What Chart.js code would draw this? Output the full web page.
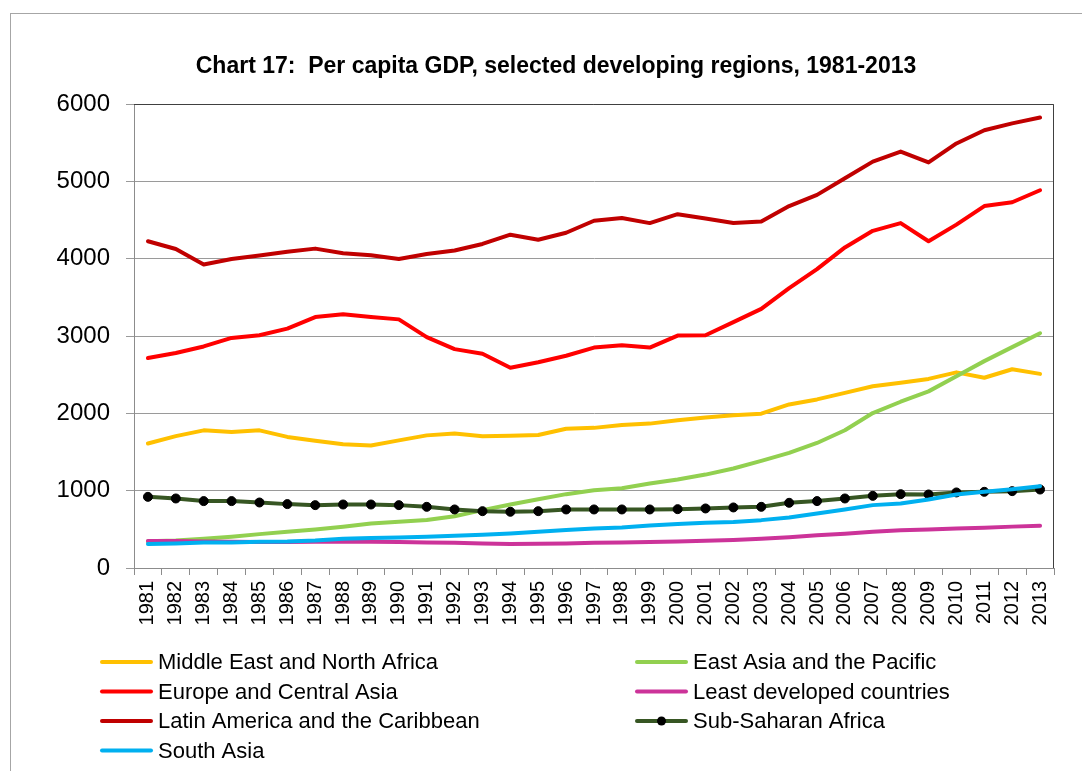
<!DOCTYPE html>
<html>
<head>
  <title>Per capita GDP, selected developing regions</title>
  <script src="https://cdn.jsdelivr.net/npm/chart.js"></script>
  <style>
    body { margin: 0; overflow: hidden; background: #fff; }
    #frame { position: absolute; left: 10px; top: 13px; width: 2000px; height: 2000px;
             border-left: 1px solid #a6a6a6; border-top: 1px solid #a6a6a6; pointer-events: none; }
    canvas { position: absolute; left: 0; top: 0; }
  </style>
</head>
<body>
  <div id="frame"></div>
  <canvas id="myChart" width="1082" height="771"></canvas>

  <script>
    // Years on the x axis
    const years = [];
    for (let y = 1981; y <= 2013; y++) years.push(String(y));

    // Per capita GDP values
    const mena = [1610,1705,1780,1760,1780,1695,1645,1600,1585,1650,1715,1740,1705,1710,1720,1800,1812,
                  1850,1867,1910,1945,1975,1995,2115,2180,2265,2350,2395,2445,2530,2460,2570,2510];
    const eap  = [345,355,378,404,438,468,498,533,575,598,620,670,748,822,890,955,1005,
                  1032,1092,1145,1208,1286,1385,1488,1617,1781,2004,2150,2284,2481,2675,2856,3036];
    const eca  = [2715,2780,2865,2975,3010,3095,3245,3280,3245,3215,2985,2830,2770,2590,2660,2745,2850,
                  2880,2850,3005,3010,3180,3350,3620,3865,4145,4360,4460,4225,4440,4680,4730,4885];
    const ldc  = [348,348,344,340,336,336,338,340,340,335,330,325,318,310,314,318,327,
                  330,336,344,352,362,378,398,422,444,469,488,499,512,520,535,546];
    const lac  = [4225,4125,3925,3995,4040,4090,4130,4070,4045,3995,4060,4105,4190,4310,4245,4335,4490,
                  4525,4460,4575,4520,4460,4480,4680,4825,5040,5255,5385,5245,5490,5660,5750,5825];
    const ssa  = [920,899,865,865,847,826,813,821,821,813,791,757,735,727,735,757,757,
                  757,757,761,770,783,791,843,865,899,933,955,951,977,985,994,1015];
    const sa   = [310,318,331,331,340,344,357,378,387,396,404,417,430,447,469,490,510,
                  525,551,568,585,594,619,654,705,757,813,834,886,951,985,1019,1058];

    const seriesNames = ['Middle East and North Africa', 'East Asia and the Pacific',
      'Europe and Central Asia', 'Least developed countries',
      'Latin America and the Caribbean', 'Sub-Saharan Africa', 'South Asia'];
    const yTicks = [0, 1000, 2000, 3000, 4000, 5000, 6000];
    const titleText = 'Chart 17:  Per capita GDP, selected developing regions, 1981-2013';

    function line(label, data, color, order) {
      return {
        label: label,
        data: data,
        borderColor: color,
        backgroundColor: color,
        borderWidth: 4,
        borderJoinStyle: 'round',
        borderCapStyle: 'round',
        pointRadius: 0,
        tension: 0,
        order: order
      };
    }

    const datasets = [
      line(seriesNames[0], mena, '#FFC000', 7),
      line(seriesNames[1], eap, '#92D050', 6),
      line(seriesNames[2], eca, '#FF0000', 5),
      line(seriesNames[3], ldc, '#CC3399', 4),
      line(seriesNames[4], lac, '#C00000', 3),
      line(seriesNames[5], ssa, '#375623', 2),
      line(seriesNames[6], sa, '#00B0F0', 1)
    ];
    datasets[5].pointRadius = 4.5;
    datasets[5].pointBackgroundColor = '#000';
    datasets[5].pointBorderColor = '#000';
    datasets[5].pointBorderWidth = 1;

    // Title, plot border and a two-column legend drawn on the canvas
    const decor = {
      id: 'decor',
      afterDraw(chart) {
        const ctx = chart.ctx;
        const a = chart.chartArea;
        ctx.save();
        ctx.strokeStyle = '#404040';
        ctx.lineWidth = 1;
        ctx.beginPath();
        ctx.moveTo(a.left, a.top + 0.5);
        ctx.lineTo(a.right - 0.5, a.top + 0.5);
        ctx.lineTo(a.right - 0.5, a.bottom);
        ctx.stroke();

        ctx.fillStyle = '#000';
        ctx.font = 'bold 23px "Liberation Sans"';
        ctx.textAlign = 'center';
        ctx.textBaseline = 'alphabetic';
        ctx.fillText(titleText, 556, 73);

        ctx.font = '22px "Liberation Sans"';
        ctx.textAlign = 'left';
        ctx.textBaseline = 'middle';
        chart.data.datasets.forEach((ds, i) => {
          const x0 = (i % 2) ? 635 : 100;
          const y = 662 + Math.floor(i / 2) * 29.5;
          ctx.strokeStyle = ds.borderColor;
          ctx.lineWidth = 4;
          ctx.lineCap = 'round';
          ctx.beginPath();
          ctx.moveTo(x0 + 2, y);
          ctx.lineTo(x0 + 51, y);
          ctx.stroke();
          if (ds.pointRadius > 0) {
            ctx.fillStyle = ds.pointBackgroundColor;
            ctx.beginPath();
            ctx.arc(x0 + 26.5, y, ds.pointRadius, 0, Math.PI * 2);
            ctx.fill();
          }
          ctx.fillStyle = '#000';
          ctx.fillText(ds.label, x0 + 58, y + 1);
        });
        ctx.restore();
      }
    };

    const ctx = document.getElementById('myChart').getContext('2d');
    const myChart = new Chart(ctx, {
      type: 'line',
      data: { labels: years, datasets: datasets },
      plugins: [decor],
      options: {
        responsive: false,
        animation: false,
        layout: { padding: { top: 104, bottom: 130, right: 28, left: 0 } },
        plugins: {
          legend: { display: false },
          title: { display: false },
          tooltip: { enabled: false }
        },
        scales: {
          x: {
            offset: true,
            afterFit(scale) { scale.height = 73; },
            grid: {
              offset: true,
              drawOnChartArea: false,
              drawTicks: true,
              tickLength: 7,
              color: '#8c8c8c'
            },
            border: { color: '#8c8c8c', width: 1 },
            ticks: {
              autoSkip: false,
              minRotation: 90,
              maxRotation: 90,
              padding: 6,
              color: '#000',
              font: { family: '"Liberation Sans"', size: 20 }
            }
          },
          y: {
            min: 0,
            max: 6000,
            afterFit(scale) { scale.width = 134; },
            afterBuildTicks(scale) { scale.ticks = yTicks.map(v => ({ value: v })); },
            grid: {
              color: '#9a9a9a',
              tickLength: 8,
              lineWidth: 1
            },
            border: { color: '#8c8c8c', width: 1 },
            ticks: {
              padding: 16,
              color: '#000',
              font: { family: '"Liberation Sans"', size: 24 },
              callback: value => String(value)
            }
          }
        }
      }
    });
  </script>
</body>
</html>
